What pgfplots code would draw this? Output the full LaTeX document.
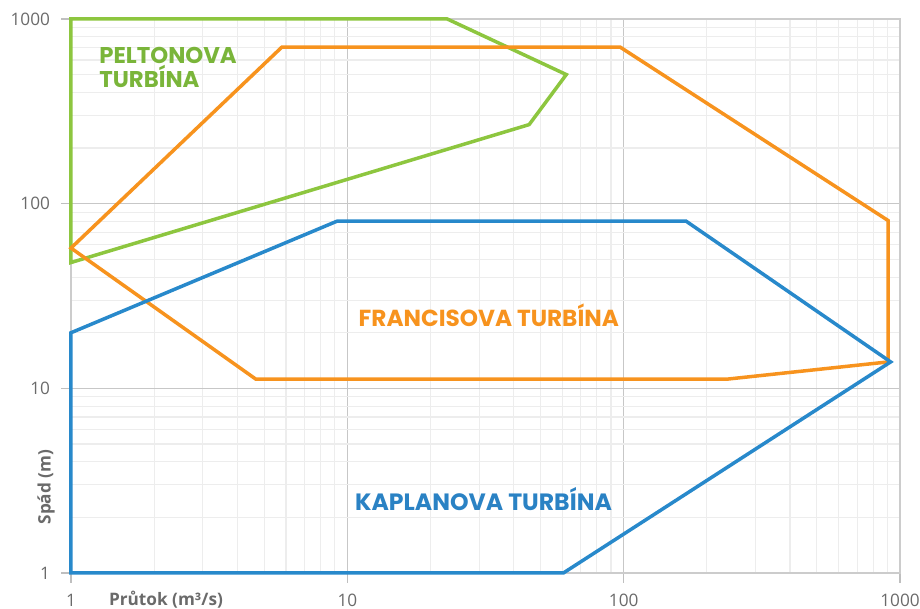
\documentclass[border=0pt]{standalone}
\usepackage{pgfplots}
\pgfplotsset{compat=1.18}
\usepackage{fontspec}
\setmainfont{Open Sans}
\newfontfamily\turb{Poppins}
\definecolor{pelton}{HTML}{8DC63F}
\definecolor{peltontxt}{HTML}{7AB53A}
\definecolor{francis}{HTML}{F7931E}
\definecolor{kaplan}{HTML}{2889CB}
\definecolor{kaplantxt}{HTML}{2A82C4}
\definecolor{ticktxt}{HTML}{6A6A6A}
\begin{document}
\begin{tikzpicture}
\begin{axis}[
  xmode=log, ymode=log,
  scale only axis, width=414.5pt, height=277pt,
  xmin=1, xmax=1000, ymin=1, ymax=1000,
  xtick={1,10,100,1000}, xticklabels={1,10,100,1000},
  ytick={1,10,100,1000}, yticklabels={1,10,100,1000},
  grid=both,
  major grid style={draw=black!22, line width=0.6pt},
  minor grid style={draw=black!7, line width=0.6pt},
  axis line style={draw=black!20, line width=0.6pt},
  tick align=outside, tick pos=left,
  major tick length=5pt, minor tick length=0pt,
  tick style={draw=black!25, line width=0.6pt},
  ticklabel style={font=\fontsize{8.6}{10}\selectfont, text=ticktxt},
  xticklabel style={yshift=-2pt},
  yticklabel style={xshift=-2pt},
  /pgf/number format/assume math mode=true,
  clip=false,
  xlabel={Průtok (m³/s)}, ylabel={Spád (m)},
  xlabel style={at={(axis description cs:0.1146,-0.049)}, anchor=center,
    font=\fontsize{8.6}{10}\selectfont\bfseries, text=ticktxt},
  ylabel style={at={(axis description cs:-0.030,0.155)}, anchor=center,
    font=\fontsize{8.6}{10}\selectfont\bfseries, text=ticktxt},
  every axis plot/.append style={line width=1.75pt, line join=miter},
]
\addplot[pelton] coordinates {(1,1000) (23,1000) (62,500) (45.5,268) (1,48)} --cycle;
\addplot[francis] coordinates {(1,57.5) (5.8,705) (97,705) (906,81) (906,13.9) (235,11.2) (4.67,11.2)} --cycle;
\addplot[kaplan] coordinates {(1,20) (9.2,80.5) (168,80.5) (925,13.9) (60.5,1) (1,1)} --cycle;
\node[anchor=base west, inner sep=0pt, text=peltontxt, font=\turb\bfseries\fontsize{11.4}{12}\selectfont] at (rel axis cs:0.0338,0.920) {PELTONOVA};
\node[anchor=base west, inner sep=0pt, text=peltontxt, font=\turb\bfseries\fontsize{11.4}{12}\selectfont] at (rel axis cs:0.0338,0.877) {TURBÍNA};
\node[anchor=base, inner sep=0pt, text=francis, font=\turb\bfseries\fontsize{11.6}{12}\selectfont] at (rel axis cs:0.504,0.4446) {FRANCISOVA TURBÍNA};
\node[anchor=base, inner sep=0pt, text=kaplantxt, font=\turb\bfseries\fontsize{11.8}{12}\selectfont] at (rel axis cs:0.4976,0.1125) {KAPLANOVA TURBÍNA};
\end{axis}
\pgfresetboundingbox
\path (-35.5pt,-18pt) rectangle (424.5pt,286.5pt);
\end{tikzpicture}
\end{document}
